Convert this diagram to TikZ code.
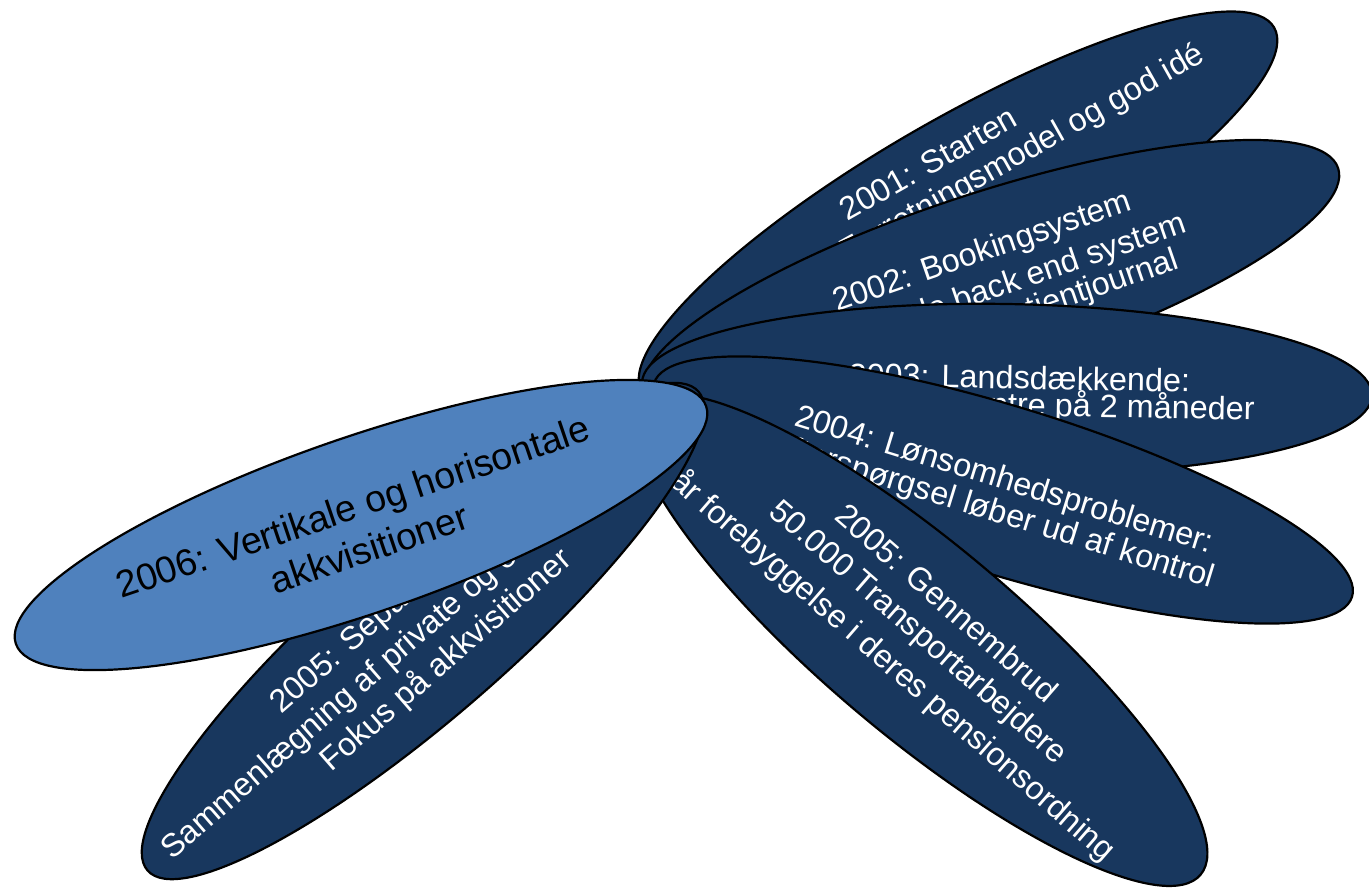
\documentclass[tikz,border=0pt]{standalone}
\usepackage{fontspec}
\setmainfont{Liberation Sans}
\usetikzlibrary{shapes.geometric}
\definecolor{petalnavy}{RGB}{24,55,94}
\definecolor{petallight}{RGB}{79,129,189}
\tikzset{
  petal/.style={ellipse, draw=black, line width=1.1pt, fill=petalnavy,
    minimum width=365pt, minimum height=#1, inner sep=0pt},
  petal/.default=88pt,
  lightpetal/.style={petal=88pt, fill=petallight},
  ptext/.style={text=white, inner sep=0pt, font=\fontsize{16.2}{19.5}\selectfont},
  btext/.style={text=black, inner sep=0pt, font=\fontsize{18.75}{22.5}\selectfont}
}
\begin{document}
\begin{tikzpicture}[x=0.5pt,y=-0.5pt]
\useasboundingbox (0,0) rectangle (1369,891);

% 2001
\node[petal=90pt, rotate=30] (p1) at (958,210) {};
\node[ptext, rotate=29.4, anchor=base west] (p1a) at (847,222) {2001: Starten};
\node[ptext, rotate=29.4, anchor=base east] (p1b) at (1207,60) {Forretningsmodel og god idé};

% 2002
\node[petal=89pt, rotate=18] (p2) at (991,281) {};
\node[ptext, rotate=19, anchor=base west] (p2a) at (837,312) {2002: Bookingsystem};
\node[ptext, rotate=19, anchor=base east] (p2b) at (1188,232) {Udviklede back end system};
\node[ptext, rotate=19, anchor=base east] (p2c) at (1181,268) {Patientjournal};

% 2003
\node[petal=85pt, rotate=-1] (p3) at (1007,389) {};
\node[ptext, rotate=-1, anchor=base west] (p3a) at (848,386) {2003: Landsdækkende:};
\node[ptext, rotate=-1, anchor=base east] (p3b) at (1255,420) {behandlingscentre på 2 måneder};

% 2004
\node[petal=84pt, rotate=-17] (p4) at (1003,490) {};
\node[ptext, rotate=-17.1, anchor=base west] (p4a) at (793,425) {2004: Lønsomhedsproblemer:};
\node[ptext, rotate=-17.1, anchor=base east] (p4b) at (1211,588) {Efterspørgsel løber ud af kontrol};

% 2005 Gennembrud
\node[petal=96pt, rotate=-40] (p5) at (921,640) {};
\node[ptext, rotate=-41, anchor=base] (p5a) at (939.5,611.5) {2005: Gennembrud};
\node[ptext, rotate=-41, anchor=base] (p5b) at (912.3,639.5) {50.000 Transportarbejdere};
\node[ptext, rotate=-41, anchor=base] (p5c) at (883.3,670.5) {får forebyggelse i deres pensionsordning};

% 2005 Separation
\node[petal=86pt, rotate=41] (p6) at (423,631) {};
\node[ptext, rotate=41, anchor=base west] (p6a) at (281,715) {2005: Separation};
\node[ptext, rotate=41, anchor=base west] (p6b) at (172,861) {Sammenlægning af private og offentlige};
\node[ptext, rotate=41, anchor=base west] (p6c) at (331,773) {Fokus på akkvisitioner};

% 2006
\node[lightpetal, rotate=19] (p7) at (361,525) {};
\node[btext, rotate=18.7, anchor=base] (p7a) at (357,519) {2006: Vertikale og horisontale};
\node[btext, rotate=18.7, anchor=base] (p7b) at (373.5,561) {akkvisitioner};
\end{tikzpicture}
\end{document}
